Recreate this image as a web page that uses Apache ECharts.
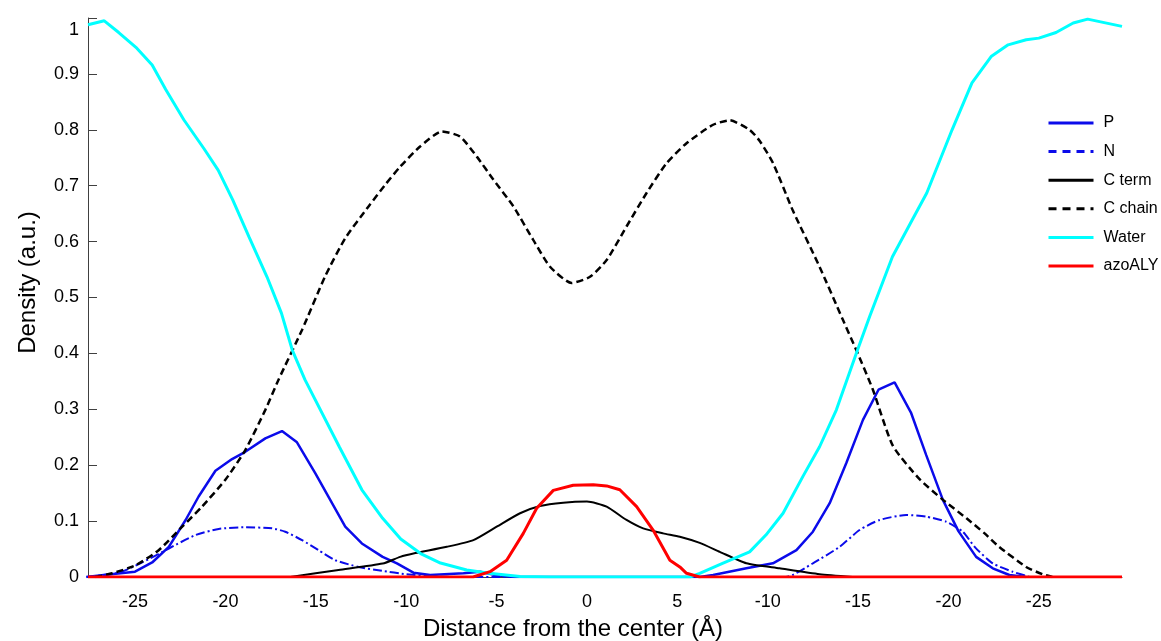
<!DOCTYPE html>
<html>
<head>
<meta charset="utf-8">
<script src="https://cdn.jsdelivr.net/npm/echarts@6/dist/echarts.min.js"></script>
<style>
  html, body { margin: 0; padding: 0; background: #fff; }
  #chart { width: 1161px; height: 641px; }
</style>
</head>
<body>
<div id="chart"></div>
<script>
// x positions (Å) and density values
const pData = [[-27.7,0],[-26.6,0.004],[-25.0,0.0095],[-24.05,0.026],[-23.13,0.054],[-22.2,0.102],[-21.48,0.144],[-20.55,0.19],[-19.63,0.211],[-18.9,0.224],[-17.79,0.248],[-16.87,0.261],[-16.04,0.241],[-15.03,0.186],[-14.1,0.132],[-13.37,0.09],[-12.45,0.06],[-11.3,0.036],[-10.51,0.0245],[-9.6,0.0077],[-8.67,0.0036],[-6.83,0.0066],[-5.91,0.0095],[-5.0,0.003],[-4.0,0],[6.24,0],[6.98,0.0036],[8.82,0.0155],[10.29,0.0245],[11.59,0.048],[12.5,0.081],[13.43,0.132],[14.35,0.204],[15.27,0.281],[16.13,0.335],[17.02,0.348],[17.94,0.293],[18.77,0.218],[19.69,0.138],[20.55,0.082],[21.53,0.036],[22.45,0.0155],[23.37,0.0036],[24.3,0]];
const nData = [[-27.7,0],[-25.9,0.0077],[-24.6,0.026],[-23.13,0.051],[-21.66,0.075],[-20.37,0.086],[-18.9,0.089],[-17.42,0.087],[-16.69,0.081],[-15.76,0.066],[-14.85,0.048],[-13.92,0.03],[-12.63,0.018],[-11.34,0.011],[-10,0.005],[-8.5,0.001],[-7,0],[11.0,0],[12.5,0.0245],[13.98,0.054],[15.08,0.084],[16.19,0.102],[17.66,0.111],[18.77,0.108],[19.87,0.099],[20.79,0.081],[21.5,0.052],[22.45,0.0245],[23.55,0.0095],[24.5,0]];
const cTermData = [[-16.4,0],[-13.74,0.0125],[-11.3,0.024],[-10.33,0.036],[-9.6,0.042],[-7.75,0.054],[-6.28,0.066],[-4.99,0.09],[-3.7,0.114],[-2.6,0.127],[-1.31,0.133],[0,0.135],[1.09,0.126],[2.19,0.102],[3.11,0.087],[4.22,0.078],[5.14,0.072],[6.24,0.061],[7.35,0.045],[8.82,0.0245],[10.66,0.0155],[12.87,0.005],[14.7,0]];
const cChainData = [[-27.2,0],[-26.26,0.0066],[-24.97,0.021],[-23.69,0.048],[-22.39,0.09],[-21.29,0.126],[-20.0,0.174],[-18.9,0.227],[-17.79,0.299],[-17.06,0.353],[-15.76,0.442],[-14.48,0.538],[-13.37,0.606],[-12.08,0.663],[-11.2,0.7],[-10.33,0.734],[-9.23,0.77],[-8.03,0.797],[-7.02,0.788],[-6.09,0.752],[-5.18,0.711],[-4.07,0.663],[-2.97,0.603],[-2.04,0.555],[-0.85,0.526],[0.17,0.537],[1.09,0.567],[2.19,0.627],[3.3,0.687],[4.4,0.74],[5.51,0.776],[6.98,0.809],[7.9,0.817],[9.0,0.8],[9.56,0.78],[10.3,0.74],[11.4,0.655],[12.87,0.555],[14.16,0.46],[14.9,0.406],[15.82,0.335],[16.92,0.235],[18.4,0.175],[19.7,0.138],[21.0,0.105],[22.0,0.078],[22.8,0.054],[24.3,0.018],[25.2,0.005],[25.75,0]];
const waterData = [[-27.6,0.988],[-26.7,0.995],[-25.9,0.974],[-24.9,0.946],[-24.05,0.916],[-23.3,0.872],[-22.3,0.818],[-21.2,0.767],[-20.4,0.728],[-19.6,0.675],[-18.7,0.609],[-17.7,0.537],[-16.9,0.472],[-16.3,0.406],[-15.6,0.353],[-13.7,0.233],[-12.45,0.156],[-11.3,0.105],[-10.3,0.068],[-9.2,0.042],[-8.1,0.025],[-6.65,0.0125],[-5.4,0.0066],[-3.7,0.001],[-2,0],[5.7,0],[6.24,0.0066],[7.5,0.0245],[9.0,0.045],[9.9,0.075],[10.85,0.114],[11.95,0.18],[12.87,0.233],[13.8,0.299],[14.9,0.4],[15.64,0.466],[16.9,0.573],[18.0,0.639],[18.8,0.687],[20.2,0.8],[21.3,0.884],[22.36,0.931],[23.3,0.952],[24.3,0.961],[25.0,0.964],[25.95,0.974],[26.9,0.991],[27.7,0.998],[29.6,0.985]];
const azoData = [[-27.6,0],[-6.3,0],[-5.36,0.0095],[-4.44,0.03],[-3.52,0.078],[-2.78,0.123],[-1.86,0.155],[-0.76,0.164],[0.35,0.165],[1.09,0.163],[1.82,0.156],[2.75,0.126],[3.66,0.084],[4.59,0.03],[5.14,0.018],[5.51,0.0066],[6.24,0],[29.6,0]];

// tick positions and the labels printed under them
const xTickValues = [-25, -20, -15, -10, -5, 0, 5, 10, 15, 20, 25];
const xTickLabels = ['-25', '-20', '-15', '-10', '-5', '0', '5', '-10', '-15', '-20', '-25'];
const seriesNames = ['P', 'N', 'C term', 'C chain', 'Water', 'azoALY'];

const blue = '#0b0bea';
const font = 'Liberation Sans, Arial, sans-serif';

const chart = echarts.init(document.getElementById('chart'));

function line(name, data, color, width, type, smooth) {
  return {
    name: name,
    type: 'line',
    data: data,
    symbol: 'none',
    smooth: smooth || false,
    lineStyle: { color: color, width: width, type: type },
    itemStyle: { color: color },
    z: 2
  };
}

chart.setOption({
  animation: false,
  backgroundColor: '#fff',
  grid: { left: 88, right: 39, top: 18, bottom: 64, outerBoundsMode: 'none' },
  legend: {
    orient: 'vertical',
    left: 1047,
    top: 115,
    padding: 0,
    itemWidth: 45,
    itemHeight: 14,
    itemGap: 12.6,
    itemStyle: { opacity: 0 },
    textStyle: { fontFamily: font, fontSize: 16, color: '#000', padding: [0, 0, 0, 5] },
    data: [
      { name: seriesNames[0], lineStyle: { width: 3 } },
      { name: seriesNames[1], lineStyle: { width: 3, type: [8, 6] } },
      { name: seriesNames[2], lineStyle: { width: 3 } },
      { name: seriesNames[3], lineStyle: { width: 3, type: [8, 6] } },
      { name: seriesNames[4], lineStyle: { width: 3 } },
      { name: seriesNames[5], lineStyle: { width: 3 } }
    ]
  },
  xAxis: {
    type: 'value',
    min: -27.6,
    max: 29.6,
    name: 'Distance from the center (Å)',
    nameLocation: 'middle',
    nameGap: 40,
    nameTextStyle: { fontFamily: font, fontSize: 24, color: '#000', padding: [0, 64, 0, 0] },
    axisLine: { onZero: false, lineStyle: { color: '#404040' } },
    axisTick: { show: false },
    splitLine: { show: false },
    axisLabel: {
      customValues: xTickValues,
      margin: 16,
      fontFamily: font,
      fontSize: 18,
      color: '#000',
      formatter: function (v) {
        const i = xTickValues.indexOf(Math.round(v));
        return i >= 0 ? xTickLabels[i] : '';
      }
    }
  },
  yAxis: {
    type: 'value',
    min: 0,
    max: 1,
    interval: 0.1,
    name: 'Density (a.u.)',
    nameLocation: 'middle',
    nameGap: 48,
    nameTextStyle: { fontFamily: font, fontSize: 24, color: '#000', padding: [0, 0, 0, 30] },
    axisLine: { show: true, onZero: false, lineStyle: { color: '#404040' } },
    axisTick: { show: true, inside: true, length: 9, lineStyle: { color: '#404040' } },
    splitLine: { show: false },
    axisLabel: {
      margin: 9,
      fontFamily: font,
      fontSize: 18,
      color: '#000',
      formatter: function (v) {
        return v === 1 ? '{top|1}' : String(Math.round(v * 10) / 10);
      },
      rich: { top: { fontFamily: font, fontSize: 18, color: '#000', padding: [24, 0, 0, 0] } }
    }
  },
  series: [
    line(seriesNames[0], pData, blue, 2.5, 'solid'),
    line(seriesNames[1], nData, blue, 2, [9, 3, 2, 3], 0.2),
    line(seriesNames[2], cTermData, '#000', 2, 'solid', 0.2),
    line(seriesNames[3], cChainData, '#000', 2.5, [7, 4], 0.2),
    line(seriesNames[4], waterData, '#00ffff', 3, 'solid'),
    line(seriesNames[5], azoData, '#ff0000', 3, 'solid')
  ]
});
</script>
</body>
</html>
